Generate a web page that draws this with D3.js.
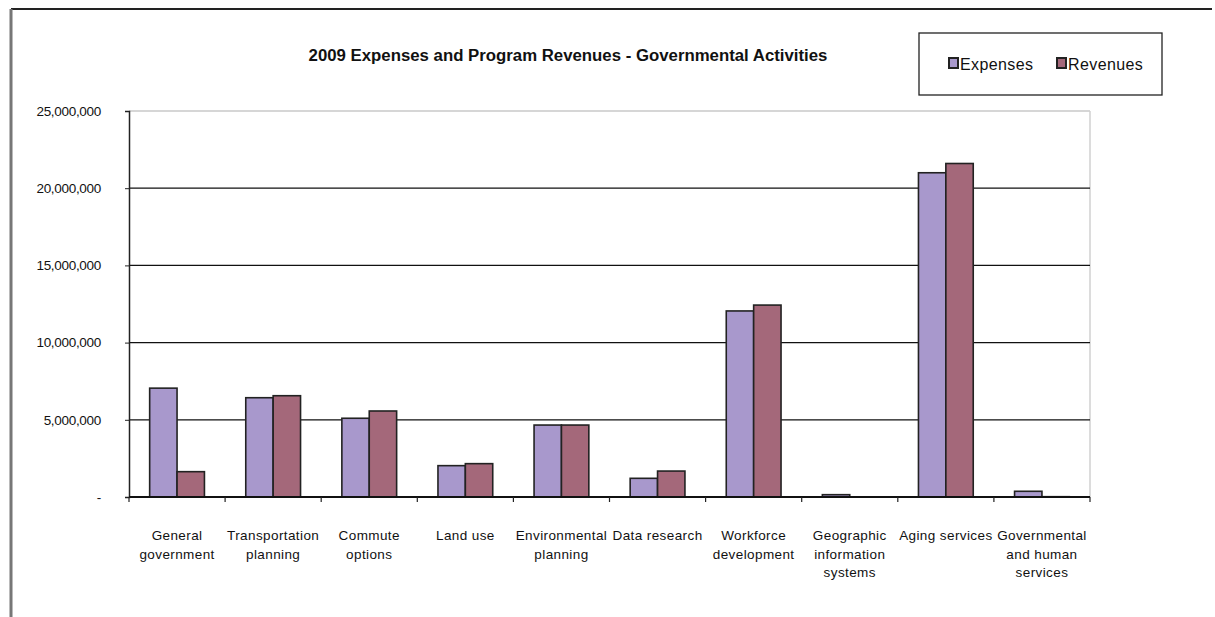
<!DOCTYPE html>
<html>
<head>
<meta charset="utf-8">
<script src="https://cdn.jsdelivr.net/npm/d3@7"></script>
<style>
  html, body { margin: 0; padding: 0; background: #fff; }
  svg { display: block; }
  text { font-family: "Liberation Sans", Arial, sans-serif; fill: #111; }
</style>
</head>
<body>
<svg id="chart" width="1215" height="617"></svg>
<script>
// Program categories (x axis)
const categories = [
  ["General", "government"],
  ["Transportation", "planning"],
  ["Commute", "options"],
  ["Land use"],
  ["Environmental", "planning"],
  ["Data research"],
  ["Workforce", "development"],
  ["Geographic", "information", "systems"],
  ["Aging services"],
  ["Governmental", "and human", "services"]
];

// 2009 amounts in dollars
const expenses = [7050000, 6430000, 5100000, 2030000, 4660000, 1210000, 12050000, 150000, 21000000, 370000];
const revenues = [1640000, 6560000, 5570000, 2160000, 4660000, 1680000, 12430000, 0, 21600000, 20000];

const seriesNames = ["Expenses", "Revenues"];
const yTicks = [0, 5000000, 10000000, 15000000, 20000000, 25000000];

const colors = { Expenses: "#a898cc", Revenues: "#a4687a" };

const svg = d3.select("#chart");
const plot = { left: 129, right: 1090, top: 111, bottom: 497 };

// Outer chart border (top and left edges)
svg.append("line").attr("x1", 11).attr("x2", 1212).attr("y1", 9).attr("y2", 9)
  .attr("stroke", "#222").attr("stroke-width", 2);
svg.append("line").attr("x1", 11).attr("x2", 11).attr("y1", 9).attr("y2", 617)
  .attr("stroke", "#777").attr("stroke-width", 3);

// Title
svg.append("text")
  .attr("x", 568).attr("y", 61)
  .attr("text-anchor", "middle")
  .attr("font-size", 16.8).attr("font-weight", "bold")
  .text("2009 Expenses and Program Revenues - Governmental Activities");

// Scales
const x0 = d3.scaleBand()
  .domain(d3.range(categories.length))
  .range([plot.left, plot.right])
  .paddingInner(0.43).paddingOuter(0.215);
const x1 = d3.scaleBand().domain(seriesNames).range([0, x0.bandwidth()]);
const y = d3.scaleLinear().domain([0, 25000000]).range([plot.bottom, plot.top]);

// Plot frame (top and right, light)
svg.append("line").attr("x1", plot.left).attr("x2", plot.right)
  .attr("y1", plot.top).attr("y2", plot.top).attr("stroke", "#c8c8c8").attr("stroke-width", 1.5);
svg.append("line").attr("x1", plot.right).attr("x2", plot.right)
  .attr("y1", plot.top).attr("y2", plot.bottom).attr("stroke", "#d0d0d0").attr("stroke-width", 1.5);

// Horizontal gridlines
svg.append("g").selectAll("line")
  .data(yTicks.filter(d => d > 0 && d < 25000000))
  .join("line")
  .attr("x1", plot.left).attr("x2", plot.right)
  .attr("y1", d => y(d)).attr("y2", d => y(d))
  .attr("stroke", "#111").attr("stroke-width", 1.3);

// Y axis
const yAxis = d3.axisLeft(y)
  .tickValues(yTicks)
  .tickSize(4)
  .tickPadding(24)
  .tickFormat(d => d === 0 ? "-" : d3.format(",")(d));
const gy = svg.append("g").attr("transform", `translate(${plot.left},0)`).call(yAxis);
gy.select(".domain").attr("stroke", "#222").attr("stroke-width", 1.5);
gy.selectAll(".tick line").attr("stroke", "#222");
gy.selectAll(".tick text").attr("font-size", 13.5).attr("fill", "#222")
  .attr("font-family", "'Liberation Sans', Arial, sans-serif")
  .attr("letter-spacing", "-0.3");

// Bars
const rows = categories.map((c, i) => ({ i, values: [
  { key: "Expenses", value: expenses[i] },
  { key: "Revenues", value: revenues[i] }
]}));

const groups = svg.append("g").selectAll("g")
  .data(rows).join("g")
  .attr("transform", d => `translate(${x0(d.i)},0)`);

groups.selectAll("rect")
  .data(d => d.values)
  .join("rect")
  .attr("x", d => x1(d.key))
  .attr("y", d => y(Math.max(d.value, 0)))
  .attr("width", x1.bandwidth())
  .attr("height", d => Math.abs(y(d.value) - y(0)))
  .attr("fill", d => colors[d.key])
  .attr("stroke", "#222")
  .attr("stroke-width", 1.6);

// X axis line with ticks between categories
const step = x0.step();
const boundaries = d3.range(categories.length + 1).map(i => x0(0) - x0.paddingOuter() * step + i * step);
svg.append("line").attr("x1", plot.left).attr("x2", plot.right)
  .attr("y1", plot.bottom).attr("y2", plot.bottom)
  .attr("stroke", "#111").attr("stroke-width", 2);
svg.append("g").selectAll("line")
  .data(boundaries).join("line")
  .attr("x1", d => d).attr("x2", d => d)
  .attr("y1", plot.bottom).attr("y2", plot.bottom + 5)
  .attr("stroke", "#222").attr("stroke-width", 1.2);

// Category labels
const labels = svg.append("g").selectAll("text")
  .data(categories).join("text")
  .attr("text-anchor", "middle")
  .attr("font-size", 13.5)
  .attr("fill", "#222")
  .attr("letter-spacing", "0.4")
  .attr("transform", (d, i) => `translate(${x0(i) + x0.bandwidth() / 2},540)`);
labels.selectAll("tspan")
  .data(d => d).join("tspan")
  .attr("x", 0)
  .attr("dy", (d, j) => j === 0 ? 0 : 18.5)
  .text(d => d);

// Legend
const legend = svg.append("g");
legend.append("rect").attr("x", 919).attr("y", 33).attr("width", 243).attr("height", 62)
  .attr("fill", "#fff").attr("stroke", "#222").attr("stroke-width", 1.3);
const legendItems = [
  { key: "Expenses", x: 949 },
  { key: "Revenues", x: 1057 }
];
legendItems.forEach(it => {
  legend.append("rect").attr("x", it.x).attr("y", 58).attr("width", 9).attr("height", 10)
    .attr("fill", colors[it.key]).attr("stroke", "#222").attr("stroke-width", 2);
  legend.append("text").attr("x", it.x + 11).attr("y", 70)
    .attr("font-size", 16).attr("letter-spacing", "0.4").attr("fill", "#333").text(it.key);
});
</script>
</body>
</html>
